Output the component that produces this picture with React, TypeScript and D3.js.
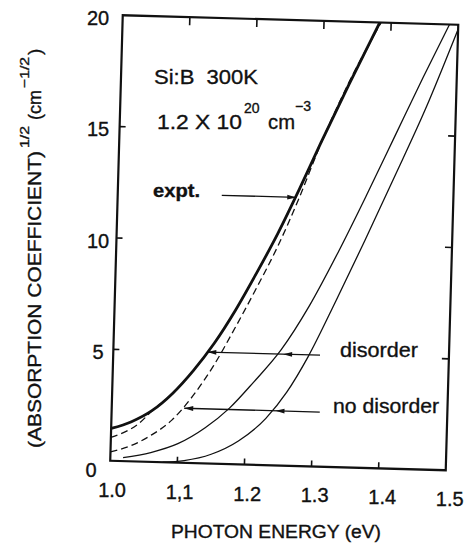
import React from 'react';
import * as d3 from 'd3';

// Photon energy (eV) and (absorption coefficient)^(1/2) (cm^-1/2) for each curve
const exptEnergy = [1.0, 1.03, 1.06, 1.09, 1.12, 1.15, 1.18, 1.21, 1.24, 1.27, 1.3, 1.34, 1.383];
const exptValue = [1.45, 1.78, 2.3, 3.1, 4.15, 5.4, 6.9, 8.6, 10.4, 12.4, 14.5, 17.2, 20.0];

const disorderCalcEnergy = [1.0, 1.02, 1.04, 1.06, 1.09, 1.12, 1.15, 1.18, 1.21, 1.24, 1.27, 1.3, 1.34, 1.384];
const disorderCalcValue = [1.05, 1.3, 1.68, 2.28, 3.1, 4.15, 5.4, 6.9, 8.6, 10.4, 12.4, 14.5, 17.2, 20.0];

const noDisorderCalcEnergy = [1.0, 1.03, 1.06, 1.09, 1.12, 1.15, 1.18, 1.21, 1.24, 1.27, 1.298, 1.337, 1.385];
const noDisorderCalcValue = [0.4, 0.7, 1.2, 1.9, 3.0, 4.4, 6.1, 7.9, 9.8, 12.0, 14.3, 17.1, 20.0];

const disorderEnergy = [1.019, 1.06, 1.1, 1.14, 1.175, 1.21, 1.25, 1.29, 1.33, 1.37, 1.41, 1.45, 1.487];
const disorderValue = [0.16, 0.42, 0.85, 1.6, 2.5, 3.7, 5.2, 7.2, 9.6, 12.2, 14.9, 17.6, 20.0];

const noDisorderEnergy = [1.078, 1.11, 1.15, 1.19, 1.23, 1.26, 1.29, 1.33, 1.37, 1.41, 1.455, 1.5];
const noDisorderValue = [0.0, 0.1, 0.42, 1.05, 2.1, 3.3, 4.9, 7.5, 10.2, 13.0, 16.2, 19.8];

const energyTicks = [1.0, 1.1, 1.2, 1.3, 1.4, 1.5];
const energyTickLabels = ['1.0', '1,1', '1.2', '1.3', '1.4', '1.5'];
const valueTicks = [0, 5, 10, 15, 20];
const valueTickLabels = ['0', '5', '10', '15', '20'];

// Annotation arrows: level (value), tail energy, tip energy, optional middle head energy
const arrowLabels = ['expt.', 'disorder', 'no disorder'];
const arrowLevel = [12.05, 5.0, 2.45];
const arrowTail = [1.155, 1.308, 1.31];
const arrowTip = [1.266, 1.14, 1.108];
const arrowMid = [null, 1.253, 1.244];

const W = 335.5;
const H = 445.5;
// The plot frame sits slightly rotated on the page
const frame = { a: 1, b: 0.0283, c: -0.0281, d: 1, e: 122.75, f: 15.25 };
const toScreen = (x: number, y: number): [number, number] => [
  frame.a * x + frame.c * y + frame.e,
  frame.b * x + frame.d * y + frame.f,
];

const xScale = d3.scaleLinear().domain([1.0, 1.5]).range([0, W]);
const yScale = d3.scaleLinear().domain([0, 20]).range([H, 0]);

const lineGen = d3
  .line<[number, number]>()
  .x((d) => xScale(d[0]))
  .y((d) => yScale(d[1]))
  .curve(d3.curveMonotoneX);

const zip = (xs: number[], ys: number[]) => xs.map((x, i) => [x, ys[i]] as [number, number]);

const INK = '#111';
const FONT = 'Arial, "Liberation Sans", Helvetica, sans-serif';
const textInk = { fill: INK, stroke: INK, strokeWidth: 0.35 };

function arrowHead(x: number, y: number, dir: number) {
  const len = 9;
  const half = 2.4;
  return `M${x},${y}L${x + dir * len},${y - half}L${x + dir * len},${y + half}Z`;
}

export default function App() {
  const series = [
    { d: zip(disorderEnergy, disorderValue), w: 1.3, dash: undefined },
    { d: zip(noDisorderEnergy, noDisorderValue), w: 1.3, dash: undefined },
    { d: zip(noDisorderCalcEnergy, noDisorderCalcValue), w: 1.3, dash: '7 4' },
    { d: zip(disorderCalcEnergy, disorderCalcValue), w: 1.3, dash: '7 4' },
    { d: zip(exptEnergy, exptValue), w: 2.8, dash: undefined },
  ];

  return (
    <svg width={466} height={546} style={{ position: 'absolute', left: 0, top: 0, background: '#fff' }}>
      <rect x={0} y={0} width={466} height={546} fill="#fff" />
      <g transform={`matrix(${frame.a},${frame.b},${frame.c},${frame.d},${frame.e},${frame.f})`}>
        <defs>
          <clipPath id="plot-area">
            <rect x={0} y={0} width={W} height={H} />
          </clipPath>
        </defs>
        <g clipPath="url(#plot-area)">
          {series.map((s, i) => (
            <path
              key={i}
              d={lineGen(s.d) || ''}
              fill="none"
              stroke={INK}
              strokeWidth={s.w}
              strokeDasharray={s.dash}
              strokeLinejoin="round"
            />
          ))}
        </g>
        {/* inward ticks */}
        {energyTicks.slice(1, -1).map((t) => (
          <g key={'xt' + t}>
            <line x1={xScale(t)} x2={xScale(t)} y1={H} y2={H - 6} stroke={INK} strokeWidth={1.6} />
            <line x1={xScale(t)} x2={xScale(t)} y1={0} y2={8} stroke={INK} strokeWidth={1.6} />
          </g>
        ))}
        {valueTicks.slice(1, -1).map((t) => (
          <g key={'yt' + t}>
            <line x1={0} x2={6} y1={yScale(t)} y2={yScale(t)} stroke={INK} strokeWidth={1.6} />
            <line x1={W} x2={W - 7} y1={yScale(t)} y2={yScale(t)} stroke={INK} strokeWidth={1.6} />
          </g>
        ))}
        <rect x={0} y={0} width={W} height={H} fill="none" stroke={INK} strokeWidth={2.2} />
        {/* arrows */}
        {arrowLevel.map((v, i) => {
          const y = yScale(v);
          const x0 = xScale(arrowTail[i]);
          const x1 = xScale(arrowTip[i]);
          const dir = x1 < x0 ? 1 : -1;
          const mid = arrowMid[i];
          return (
            <g key={'ar' + i}>
              <line x1={x0} x2={x1} y1={y} y2={y} stroke={INK} strokeWidth={1.3} />
              <path d={arrowHead(x1, y, dir)} fill={INK} />
              {mid !== null && <path d={arrowHead(xScale(mid), y, dir)} fill={INK} />}
            </g>
          );
        })}
      </g>

      {/* tick labels */}
      {energyTicks.map((t, i) => {
        const [sx, sy] = toScreen(xScale(t), H);
        return (
          <text
            key={'xl' + t}
            x={sx + 1.8 + 4.4 * (t - 1)}
            y={sy + 36}
            textAnchor="middle"
            fontFamily={FONT}
            fontSize={20}
            {...textInk}
          >
            {energyTickLabels[i]}
          </text>
        );
      })}
      {valueTicks.map((t, i) => {
        const [, sy] = toScreen(0, yScale(t));
        const zero = t === 0;
        return (
          <text
            key={'yl' + t}
            x={zero ? 91 : 98}
            y={sy + (zero ? 16 : 9.5)}
            textAnchor="middle"
            fontFamily={FONT}
            fontSize={20}
            {...textInk}
          >
            {valueTickLabels[i]}
          </text>
        );
      })}

      {/* annotations */}
      <text x={154} y={84} fontFamily={FONT} fontSize={21} {...textInk} textLength={104} lengthAdjust="spacingAndGlyphs" style={{ whiteSpace: 'pre' }}>
        {'Si:B  300K'}
      </text>
      <text x={157} y={129} fontFamily={FONT} fontSize={21} {...textInk} textLength={85} lengthAdjust="spacingAndGlyphs" style={{ whiteSpace: 'pre' }}>
        {'1.2 X 10'}
      </text>
      <text x={244} y={113} fontFamily={FONT} fontSize={14} {...textInk}>20</text>
      <text x={268} y={129} fontFamily={FONT} fontSize={21} {...textInk} textLength={27} lengthAdjust="spacingAndGlyphs">cm</text>
      <text x={295} y={111} fontFamily={FONT} fontSize={14} {...textInk}>−3</text>

      <text x={153} y={197} fontFamily={FONT} fontWeight="bold" fontSize={18} {...textInk} textLength={47} lengthAdjust="spacingAndGlyphs">
        {arrowLabels[0]}
      </text>
      <text x={340} y={357} fontFamily={FONT} fontSize={21} {...textInk} textLength={78} lengthAdjust="spacingAndGlyphs">
        {arrowLabels[1]}
      </text>
      <text x={333} y={413} fontFamily={FONT} fontSize={21} {...textInk} textLength={106} lengthAdjust="spacingAndGlyphs">
        {arrowLabels[2]}
      </text>

      {/* axis titles */}
      <text x={171} y={538} fontFamily={FONT} fontSize={18} {...textInk} textLength={210} lengthAdjust="spacingAndGlyphs">
        PHOTON ENERGY (eV)
      </text>
      <g transform="translate(41,448) rotate(-90)" fontFamily={FONT}>
        <text x={0} y={0} fontSize={19} {...textInk} textLength={297} lengthAdjust="spacingAndGlyphs">
          (ABSORPTION COEFFICIENT)
        </text>
        <text x={300} y={-12} fontSize={13} {...textInk} textLength={22} lengthAdjust="spacingAndGlyphs">1/2</text>
        <text x={328} y={0} fontSize={19} {...textInk} textLength={30} lengthAdjust="spacingAndGlyphs">(cm</text>
        <text x={360} y={-12} fontSize={13} {...textInk} textLength={31} lengthAdjust="spacingAndGlyphs">−1/2</text>
        <text x={393} y={0} fontSize={19} {...textInk}>)</text>
      </g>
    </svg>
  );
}
